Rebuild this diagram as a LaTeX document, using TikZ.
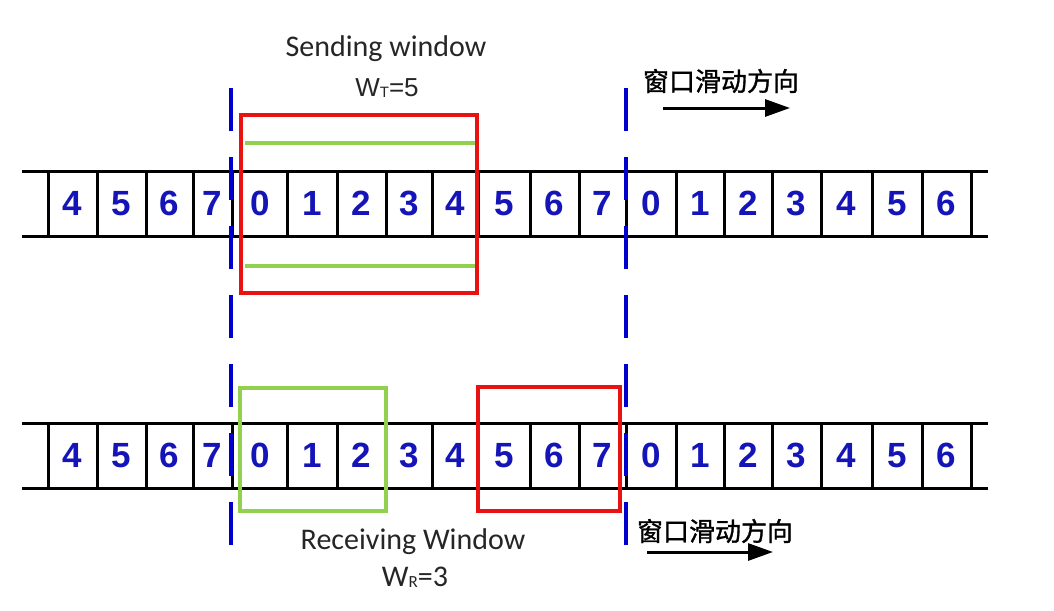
\documentclass[tikz,border=0pt]{standalone}
\usepackage{fontspec}
\setmainfont{Carlito}
\newfontfamily\numfont{Liberation Sans}
\newfontfamily\arialfont{Liberation Sans}
\newfontfamily\cjk{Noto Sans CJK SC}[FakeBold=1.2]
\usetikzlibrary{arrows.meta}
\definecolor{numblue}{RGB}{20,20,185}
\definecolor{dashblue}{RGB}{0,0,205}
\definecolor{winred}{RGB}{232,18,18}
\definecolor{wingreen}{RGB}{146,208,80}
\begin{document}
\begin{tikzpicture}[x=1pt,y=-1pt,
  tape/.style={line width=3pt,black},
  cellnum/.style={font=\numfont\bfseries\fontsize{35}{35}\selectfont, text=numblue, inner sep=0pt, anchor=center},
  dashline/.style={line width=4.5pt, dashblue, dash pattern=on 43pt off 26pt},
  redwin/.style={line width=4.5pt, winred},
  greenwin/.style={line width=4pt, wingreen},
  titletext/.style={font=\fontsize{30}{30}\selectfont, text=black!85, inner sep=0pt},
  cjktext/.style={font=\cjk\fontsize{26}{26}\selectfont, text=black, inner sep=0pt},
  dirarrow/.style={line width=3pt, -{Triangle[length=25pt,width=17pt]}}
]
\useasboundingbox (0,0) rectangle (1054,610);
\fill[white] (0,0) rectangle (1054,610);

% tapes
\foreach \ya/\yb in {171/236, 423/488}{
  \draw[tape] (22,\ya) -- (988,\ya);
  \draw[tape] (22,\yb) -- (988,\yb);
  \foreach \s in {48,97,146,193,232,287,337,386,432,478,530,579,626,676,724,772,821,872,922,971}
    \draw[tape] (\s,\ya) -- (\s,\yb);
}

% digits
\foreach \i/\x/\d in {1/72.5/4,2/121.5/5,3/169.5/6,4/212.5/7,5/260/0,6/312/1,7/361.5/2,8/409/3,9/455/4,10/504/5,11/554.5/6,12/602.5/7,13/651/0,14/700/1,15/748/2,16/796.5/3,17/846.5/4,18/897/5,19/946.5/6}{
  \node[cellnum] (t\i) at (\x,203.5) {\d};
  \node[cellnum] (b\i) at (\x,455.5) {\d};
}

% sending window
\draw[greenwin] (245,143) -- (475,143);
\draw[greenwin] (245,266) -- (475,266);
\draw[redwin] (241,115) rectangle (477,293);

% receiving side windows
\draw[greenwin] (240,388) rectangle (386,511);
\draw[redwin] (478,387) rectangle (620,511);

% dashed boundaries
\coordinate (dl1) at (231,88);
\coordinate (dl2) at (231,547);
\coordinate (dr1) at (626,88);
\coordinate (dr2) at (626,547);
\draw[dashline] (dl1) -- (dl2);
\draw[dashline] (dr1) -- (dr2);

% titles
\node[titletext] (sendt) at (386,49) {Sending window};
\node[titletext, font=\arialfont\fontsize{26}{26}\selectfont] (wt) at (387,88) {W\raisebox{-1pt}{\fontsize{15}{15}\selectfont T}=5};
\node[titletext] (recvt) at (413,542) {Receiving Window};
\node[titletext] (wr) at (415,577) {W\raisebox{-1pt}{\fontsize{17}{17}\selectfont R}=3};

% direction labels
\node[cjktext] (dirtop) at (721,81) {窗口滑动方向};
\coordinate (at1) at (663,108);
\coordinate (at2) at (790,108);
\draw[dirarrow] (at1) -- (at2);
\node[cjktext] (dirbot) at (715,531) {窗口滑动方向};
\coordinate (ab1) at (647,552);
\coordinate (ab2) at (773,552);
\draw[dirarrow] (ab1) -- (ab2);
\end{tikzpicture}
\end{document}
